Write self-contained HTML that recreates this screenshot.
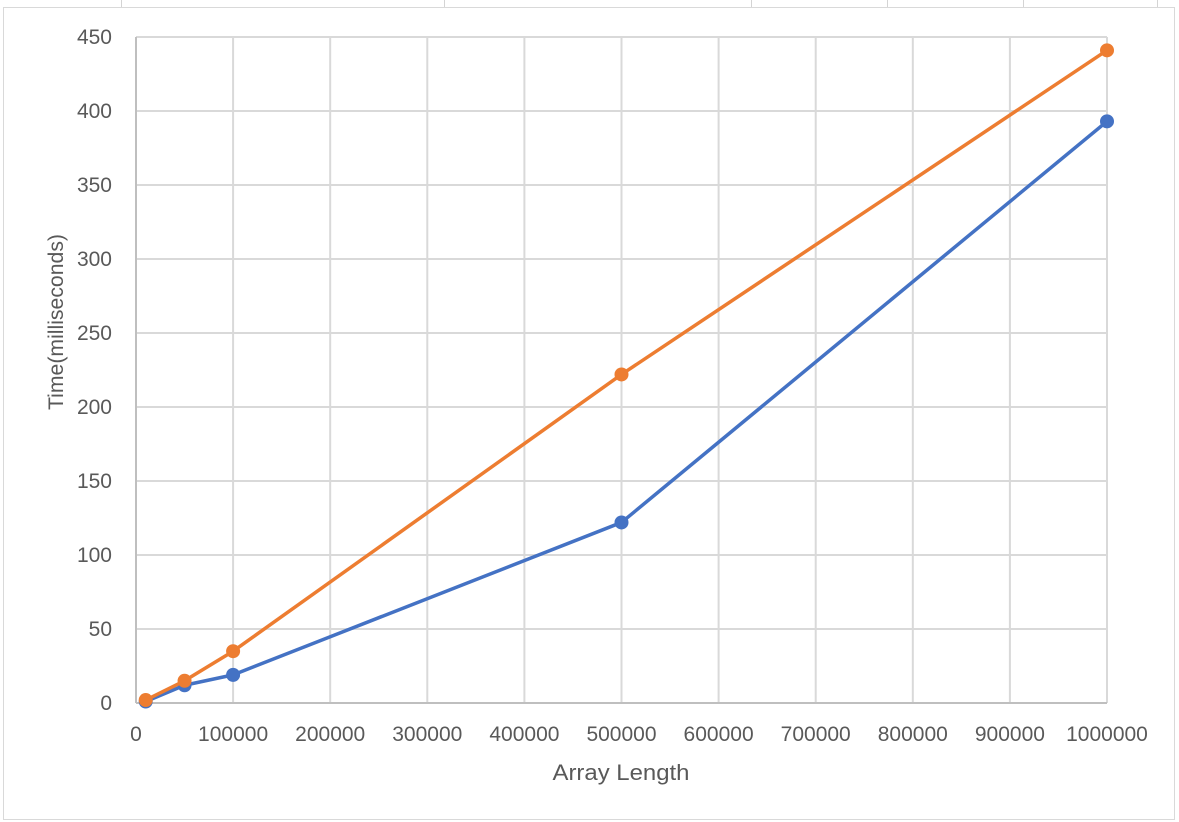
<!DOCTYPE html>
<html><head><meta charset="utf-8"><style>
body{margin:0;background:#fff;}
svg{display:block;font-family:"Liberation Sans",sans-serif;}
</style></head><body>
<svg id="c" width="1179" height="822">
<g stroke="#d4d4d4" stroke-width="1">
<line x1="121.5" y1="0" x2="121.5" y2="7"/><line x1="444.5" y1="0" x2="444.5" y2="7"/><line x1="751.5" y1="0" x2="751.5" y2="7"/><line x1="887.5" y1="0" x2="887.5" y2="7"/><line x1="1023.5" y1="0" x2="1023.5" y2="7"/><line x1="1157.5" y1="0" x2="1157.5" y2="7"/>
</g>
<rect x="3.5" y="7.5" width="1171" height="812" fill="#fff" stroke="#d9d9d9"/>
<g id="grid"></g><g id="axes"></g><g id="series"></g>
<text x="621" y="780" font-size="22" fill="#595959" text-anchor="middle" textLength="137" lengthAdjust="spacingAndGlyphs">Array Length</text>
<text transform="translate(63,322) rotate(-90)" font-size="21" fill="#595959" text-anchor="middle" textLength="176" lengthAdjust="spacingAndGlyphs">Time(milliseconds)</text>
</svg>
<script>
const xValues=[10000,50000,100000,500000,1000000];
const seriesBlue=[1,12,19,122,393];
const seriesOrange=[2,15,35,222,441];
const xTicks=[0,100000,200000,300000,400000,500000,600000,700000,800000,900000,1000000];
const yTicks=[0,50,100,150,200,250,300,350,400,450];
const L=136,R=1107,T=37,B=703;
const xs=v=>L+(v/1000000)*(R-L), ys=v=>B-(v/450)*(B-T);
const NS="http://www.w3.org/2000/svg";
function mk(p,t,a){const e=document.createElementNS(NS,t);for(const k in a)e.setAttribute(k,a[k]);p.appendChild(e);return e;}
const g=document.getElementById('grid'),ax=document.getElementById('axes'),s=document.getElementById('series');
yTicks.forEach(v=>{const y=ys(v);
 const l=mk(g,'line',{x1:L,x2:R,y1:y,y2:y,stroke:'#d9d9d9','stroke-width':2});
 
 
 const t=mk(ax,'text',{x:112,y:y+7,'font-size':21,fill:'#595959','text-anchor':'end'});t.textContent=v;
 
 });
xTicks.forEach(v=>{const x=xs(v);
 const l=mk(g,'line',{x1:x,x2:x,y1:T,y2:B,stroke:'#d9d9d9','stroke-width':2});
 
 
 const t=mk(ax,'text',{x:x,y:741,'font-size':21,fill:'#595959','text-anchor':'middle'});t.textContent=v;
 
 });
const a1=mk(ax,'line',{x1:L,x2:R,y1:B,y2:B,stroke:'#bfbfbf','stroke-width':2});


const a2=mk(ax,'line',{x1:L,x2:L,y1:T,y2:B,stroke:'#bfbfbf','stroke-width':2});


[[seriesBlue,'#4472c4','blue'],[seriesOrange,'#ed7d31','orange']].forEach(([d,c,n])=>{
 const p=mk(s,'polyline',{points:d.map((v,i)=>xs(xValues[i])+','+ys(v)).join(' '),fill:'none',stroke:c,'stroke-width':3.5,'stroke-linejoin':'round'});
 
 
 d.forEach((v,i)=>{const m=mk(s,'circle',{cx:xs(xValues[i]),cy:ys(v),r:7,fill:c});
 
 });
});
</script>
</body></html>
